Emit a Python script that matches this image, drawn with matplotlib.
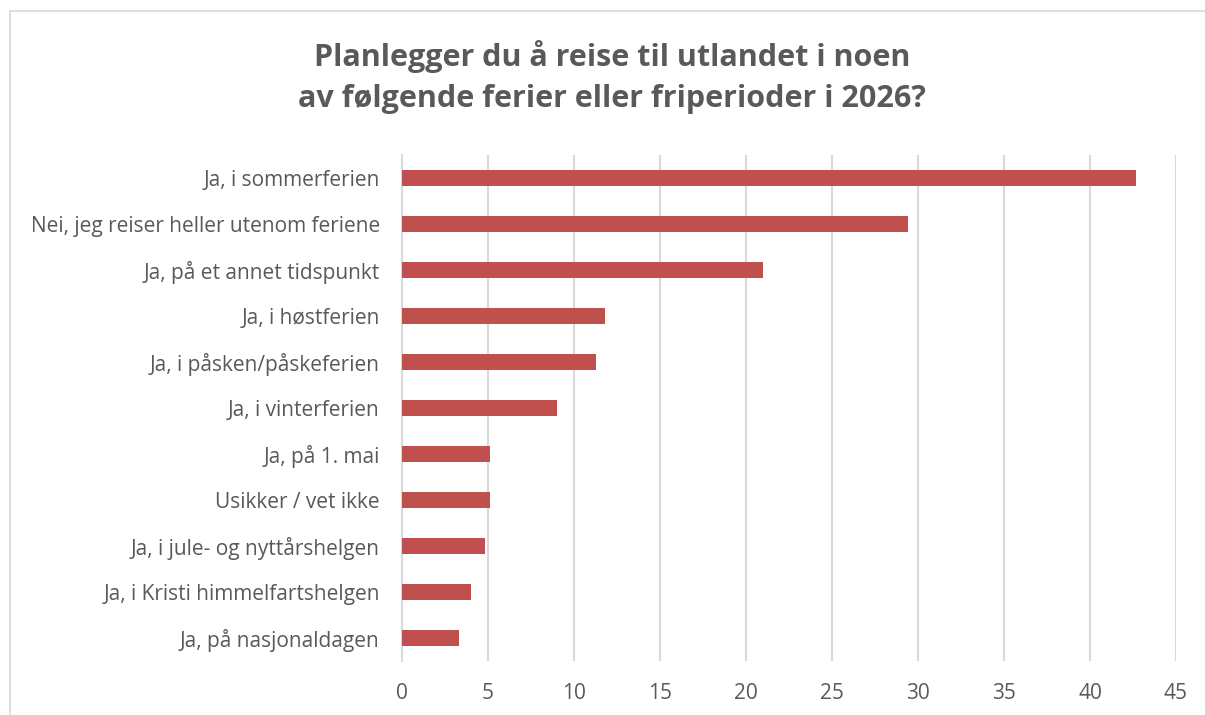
import matplotlib
matplotlib.use("Agg")
import matplotlib.pyplot as plt
from matplotlib.lines import Line2D

categories = [
    "Ja, i sommerferien",
    "Nei, jeg reiser heller utenom feriene",
    "Ja, på et annet tidspunkt",
    "Ja, i høstferien",
    "Ja, i påsken/påskeferien",
    "Ja, i vinterferien",
    "Ja, på 1. mai",
    "Usikker / vet ikke",
    "Ja, i jule- og nyttårshelgen",
    "Ja, i Kristi himmelfartshelgen",
    "Ja, på nasjonaldagen",
]
values = [42.7, 29.4, 21.0, 11.8, 11.3, 9.0, 5.1, 5.1, 4.8, 4.0, 3.3]
xticks = [0, 5, 10, 15, 20, 25, 30, 35, 40, 45]
title = "Planlegger du å reise til utlandet i noen\nav følgende ferier eller friperioder i 2026?"

plt.rcParams['font.family'] = ['Open Sans', 'DejaVu Sans']
TXT = "#595959"
GRID = "#D9D9D9"

W, H = 1205, 715
fig = plt.figure(figsize=(W / 100, H / 100), dpi=100)
ax = fig.add_axes([402 / W, 54 / H, (1176 - 402) / W, (661 - 155) / H])

ypos = list(range(len(categories)))
ax.barh(ypos, values, height=0.35, color="#C0504D", zorder=3)
ax.set_ylim(len(categories) - 0.5, -0.5)
ax.set_xlim(0, 45)
ax.set_xticks(xticks)
ax.set_xticklabels([str(t) for t in xticks])
ax.set_yticks(ypos)
ax.set_yticklabels(categories)

ax.grid(axis="x", color=GRID, linewidth=1.5, zorder=0)
ax.grid(axis="y", visible=False)
for s in ["top", "right", "bottom"]:
    ax.spines[s].set_visible(False)
ax.spines["left"].set_color(GRID)
ax.spines["left"].set_linewidth(1.5)
ax.tick_params(axis="both", length=0, colors=TXT, labelsize=15)
ax.tick_params(axis="y", pad=16)
ax.tick_params(axis="x", pad=16)

fig.text(612 / W, 1 - 77 / H, title, ha="center", va="center",
         fontsize=22, fontweight="bold", color=TXT, linespacing=1.45)

# chart border (left and top visible)
fig.add_artist(Line2D([9.5 / W, 9.5 / W], [0, 1 - 11 / H], transform=fig.transFigure,
                      color=GRID, linewidth=1.2))
fig.add_artist(Line2D([9.5 / W, 1], [1 - 11 / H, 1 - 11 / H], transform=fig.transFigure,
                      color=GRID, linewidth=1.2))

fig.savefig("out.png", dpi=100, facecolor="white")
